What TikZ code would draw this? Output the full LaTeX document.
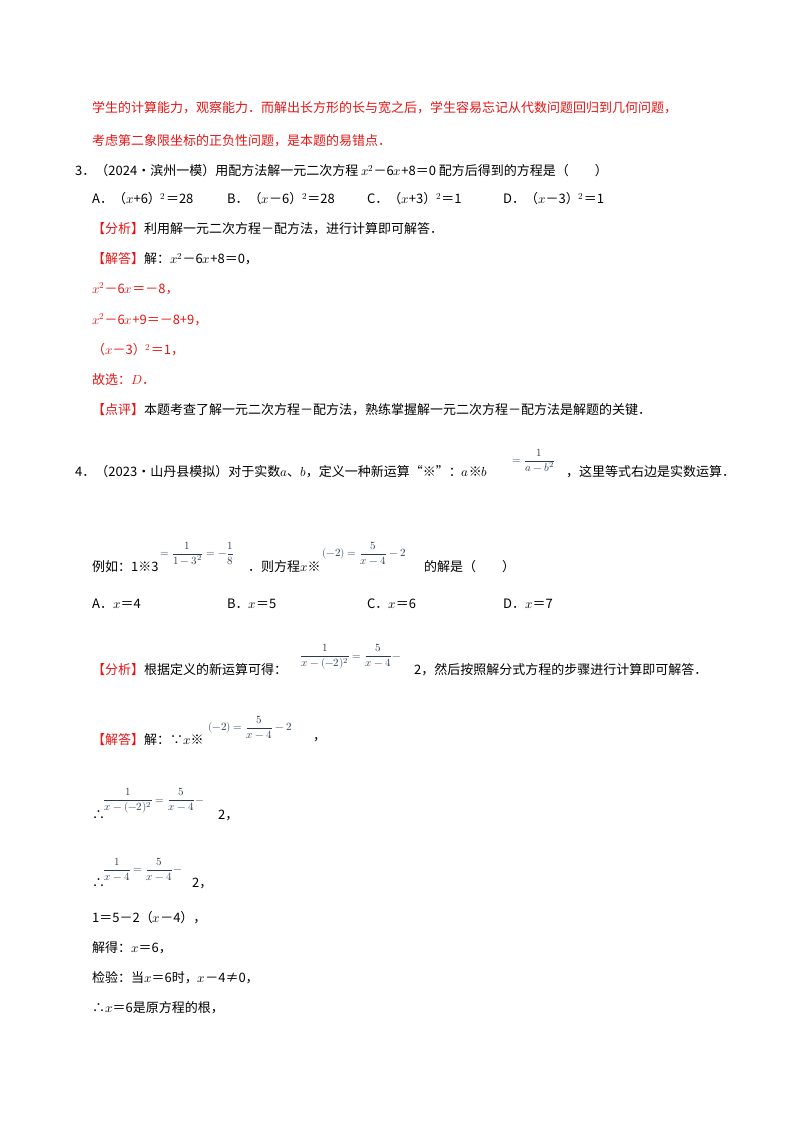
\documentclass[tikz,border=0pt]{standalone}
\usepackage{amsmath}
\usepackage{fontspec}
\usepackage{unicode-math}
\setmainfont{Noto Sans CJK SC}
\setmathfont{Latin Modern Math}
\usetikzlibrary{positioning}
\definecolor{hred}{RGB}{230,20,20}
\definecolor{fblue}{RGB}{40,60,80}
\tikzset{
  txt/.style={anchor=west, inner sep=0pt, font=\fontsize{13}{15}\selectfont},
  rtxt/.style={txt, text=hred},
  frm/.style={anchor=west, inner sep=0pt, text=fblue, font=\fontsize{11}{13}\selectfont},
}
\newcommand{\vx}{$x$}
\begin{document}
\begin{tikzpicture}[x=1pt,y=-1pt]
		\useasboundingbox (0,0) rectangle (800,1132);
		% red remark lines
		\node[rtxt] (r1) at (92,108) {学生的计算能力，观察能力．而解出长方形的长与宽之后，学生容易忘记从代数问题回归到几何问题，};
		\node[rtxt] (r2) at (92,141) {考虑第二象限坐标的正负性问题，是本题的易错点．};
		% question 3
		\node[txt] (q3) at (75,171) {3．（2024•滨州一模）用配方法解一元二次方程 \vx$^2$－6\vx+8＝0 配方后得到的方程是（　　）};
		\node[txt] (q3a) at (92,199) {A．（\vx+6）$^2$＝28};
		\node[txt] (q3b) at (227,199) {B．（\vx－6）$^2$＝28};
		\node[txt] (q3c) at (367,199) {C．（\vx+3）$^2$＝1};
		\node[txt] (q3d) at (503,199) {D．（\vx－3）$^2$＝1};
		\node[rtxt] (f3) at (92,229) {【分析】\textcolor{black}{利用解一元二次方程－配方法，进行计算即可解答．}};
		\node[rtxt] (s3) at (92,259) {【解答】\textcolor{black}{解：\vx$^2$－6\vx+8＝0，}};
		\node[rtxt] (s3b) at (92,289) {\vx$^2$－6\vx＝－8，};
		\node[rtxt] (s3c) at (92,320) {\vx$^2$－6\vx+9＝－8+9，};
		\node[rtxt] (s3d) at (92,350) {（\vx－3）$^2$＝1，};
		\node[rtxt] (s3e) at (92,380) {故选：$D$．};
		\node[rtxt] (p3) at (92,410) {【点评】\textcolor{black}{本题考查了解一元二次方程－配方法，熟练掌握解一元二次方程－配方法是解题的关键．}};
		% question 4
		\node[txt] (q4) at (75,472) {4．（2023•山丹县模拟）对于实数$a$、$b$，定义一种新运算“※”：$a$※$b$};
		\node[frm] (q4f) at (512,460) {$=\dfrac{1}{a-b^2}$};
		\node[txt] (q4e) at (566,472) {，这里等式右边是实数运算．};
		\node[txt] (ex) at (92,567) {例如：1※3};
		\node[frm] (exf) at (160,553) {$=\dfrac{1}{1-3^2}=-\dfrac{1}{8}$};
		\node[txt] (ex2) at (248,567) {．则方程\vx※};
		\node[frm] (exf2) at (322,553) {$(-2)=\dfrac{5}{x-4}-2$};
		\node[txt] (ex3) at (424,567) {的解是（　　）};
		\node[txt] (q4a) at (92,604) {A．\vx＝4};
		\node[txt] (q4b) at (227,604) {B．\vx＝5};
		\node[txt] (q4c) at (367,604) {C．\vx＝6};
		\node[txt] (q4d) at (503,604) {D．\vx＝7};
		\node[rtxt] (f4) at (92,670) {【分析】\textcolor{black}{根据定义的新运算可得：}};
		\node[frm] (f4f) at (300,657) {$\dfrac{1}{x-(-2)^2}=\dfrac{5}{x-4}-$};
		\node[txt] (f4e) at (414,670) {2，然后按照解分式方程的步骤进行计算即可解答．};
		\node[rtxt] (s4) at (92,740) {【解答】\textcolor{black}{解：∵\vx※}};
		\node[frm] (s4f) at (208,727) {$(-2)=\dfrac{5}{x-4}-2$};
		\node[txt] (s4e) at (313,740) {，};
		\node[txt] (s4b) at (92,815) {∴};
		\node[frm] (s4bf) at (103,801) {$\dfrac{1}{x-(-2)^2}=\dfrac{5}{x-4}-$};
		\node[txt] (s4be) at (218,815) {2，};
		\node[txt] (s4c) at (92,883) {∴};
		\node[frm] (s4cf) at (103,869) {$\dfrac{1}{x-4}=\dfrac{5}{x-4}-$};
		\node[txt] (s4ce) at (192,883) {2，};
		\node[txt] (s4d) at (92,918) {1＝5－2（\vx－4），};
		\node[txt] (s4e2) at (92,948) {解得：\vx＝6，};
		\node[txt] (s4f2) at (92,978) {检验：当\vx＝6时，\vx－4≠0，};
		\node[txt] (s4g) at (92,1008) {∴\vx＝6是原方程的根，};
	\end{tikzpicture}
\end{document}
